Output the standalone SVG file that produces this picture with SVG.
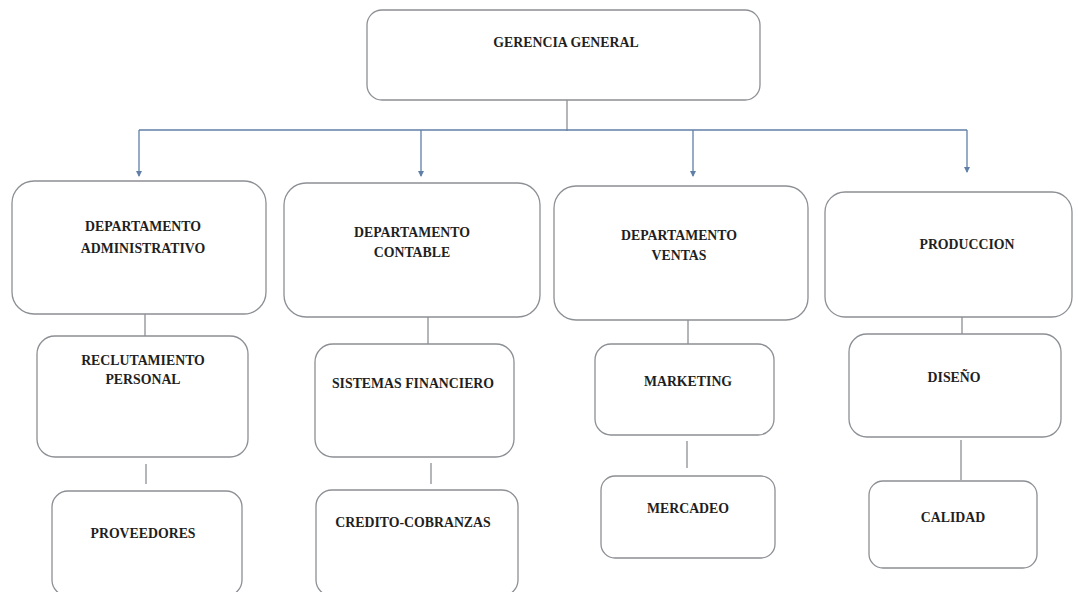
<svg xmlns="http://www.w3.org/2000/svg" width="1078" height="592" viewBox="0 0 1078 592">
<style>
.box{fill:#fff;stroke:#8c8f94;stroke-width:1.3}
.t{font-family:"Liberation Serif","Times New Roman",serif;font-weight:bold;font-size:13.8px;fill:#1f1f1f;text-anchor:middle}
.c{stroke:#8c8f94;stroke-width:1.3;fill:none}
.a{stroke:#5f7fa6;stroke-width:1.3;fill:none}
</style>
<defs>
<marker id="ah" markerWidth="6" markerHeight="6" refX="5" refY="3" orient="auto" markerUnits="userSpaceOnUse">
<path d="M0,0 L6,3 L0,6 z" fill="#5f7fa6"/>
</marker>
</defs>
<rect width="1078" height="592" fill="#fff"/>
<g id="connectors">
<line class="c" x1="567" y1="100" x2="567" y2="131"/>
<line class="a" x1="139" y1="130" x2="967" y2="130"/>
<line class="a" x1="139" y1="130" x2="139" y2="176" marker-end="url(#ah)"/>
<line class="a" x1="421" y1="130" x2="421" y2="176" marker-end="url(#ah)"/>
<line class="a" x1="693" y1="130" x2="693" y2="176" marker-end="url(#ah)"/>
<line class="a" x1="967" y1="130" x2="967" y2="172" marker-end="url(#ah)"/>
<line class="c" x1="145" y1="314" x2="145" y2="336"/>
<line class="c" x1="146" y1="464" x2="146" y2="484"/>
<line class="c" x1="428" y1="317" x2="428" y2="344"/>
<line class="c" x1="431" y1="463" x2="431" y2="484"/>
<line class="c" x1="688" y1="320" x2="688" y2="344"/>
<line class="c" x1="687" y1="441" x2="687" y2="468"/>
<line class="c" x1="962" y1="317" x2="962" y2="334"/>
<line class="c" x1="961" y1="440" x2="961" y2="480"/>
</g>
<g id="gerencia"><rect class="box" x="367" y="10" width="393" height="90" rx="15"/><text class="t" x="566" y="47">GERENCIA GENERAL</text></g>
<g id="dep-admin"><rect class="box" x="12" y="181" width="254" height="133" rx="22"/><text class="t" x="143" y="231">DEPARTAMENTO</text><text class="t" x="143" y="253">ADMINISTRATIVO</text></g>
<g id="dep-contable"><rect class="box" x="284" y="183" width="256" height="134" rx="22"/><text class="t" x="412" y="237">DEPARTAMENTO</text><text class="t" x="412" y="257">CONTABLE</text></g>
<g id="dep-ventas"><rect class="box" x="554" y="186" width="254" height="134" rx="22"/><text class="t" x="679" y="240">DEPARTAMENTO</text><text class="t" x="679" y="260">VENTAS</text></g>
<g id="produccion"><rect class="box" x="825" y="192" width="247" height="125" rx="20"/><text class="t" x="967" y="249">PRODUCCION</text></g>
<g id="reclutamiento"><rect class="box" x="37" y="336" width="211" height="121" rx="18"/><text class="t" x="143" y="365">RECLUTAMIENTO</text><text class="t" x="143" y="384">PERSONAL</text></g>
<g id="sistemas"><rect class="box" x="315" y="344" width="199" height="113" rx="18"/><text class="t" x="413" y="388">SISTEMAS FINANCIERO</text></g>
<g id="marketing"><rect class="box" x="595" y="344" width="179" height="91" rx="16"/><text class="t" x="688" y="386">MARKETING</text></g>
<g id="diseno"><rect class="box" x="849" y="334" width="212" height="103" rx="18"/><text class="t" x="954" y="382">DISEÑO</text></g>
<g id="proveedores"><rect class="box" x="52" y="491" width="190" height="105" rx="16"/><text class="t" x="143" y="538">PROVEEDORES</text></g>
<g id="credito"><rect class="box" x="316" y="490" width="202" height="106" rx="16"/><text class="t" x="413" y="527">CREDITO-COBRANZAS</text></g>
<g id="mercadeo"><rect class="box" x="601" y="476" width="174" height="82" rx="14"/><text class="t" x="688" y="513">MERCADEO</text></g>
<g id="calidad"><rect class="box" x="869" y="481" width="168" height="87" rx="14"/><text class="t" x="953" y="522">CALIDAD</text></g>
</svg>
